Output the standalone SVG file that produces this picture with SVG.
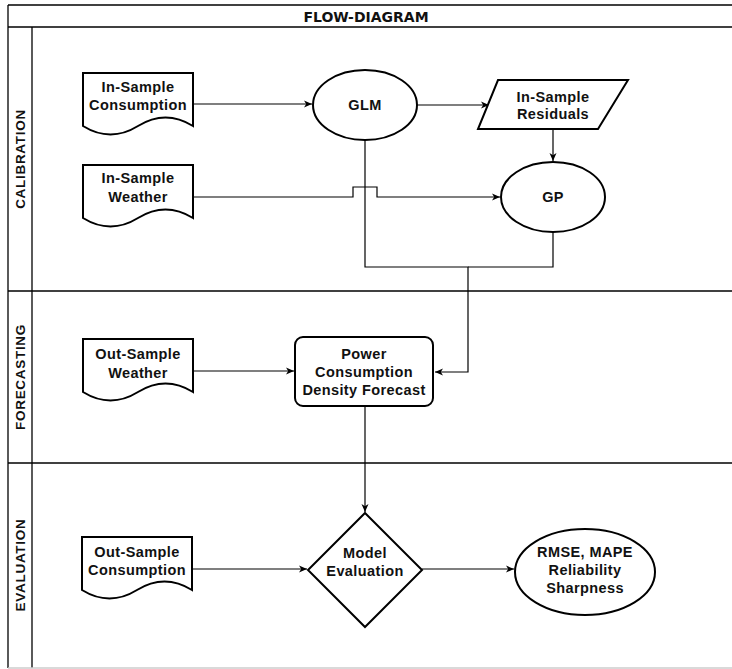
<svg xmlns="http://www.w3.org/2000/svg" width="732" height="669" viewBox="0 0 732 669">
<defs>
<marker id="arr" markerWidth="10" markerHeight="8" refX="8" refY="4" orient="auto" markerUnits="userSpaceOnUse">
<path d="M0,0.5 L8,4 L0,7.5 L2.2,4 Z" fill="#000"/>
</marker>
<style>
.frame{stroke:#000;stroke-width:1.3;fill:none}
.shape{fill:#fff;stroke:#000;stroke-width:2}
.edge{fill:none;stroke:#000;stroke-width:1.2}
.t{font-family:"Liberation Sans",Arial,sans-serif;font-weight:bold;font-size:14.5px;text-anchor:middle;fill:#111;letter-spacing:0.4px}
.lane{font-family:"Liberation Sans",Arial,sans-serif;font-weight:bold;font-size:13.5px;text-anchor:middle;fill:#111;letter-spacing:0.7px}
.title{font-family:"DejaVu Sans",sans-serif;font-weight:bold;font-size:14px;text-anchor:middle;fill:#111}
</style>
</defs>
<rect width="732" height="669" fill="#fff"/>
<g id="frame">
<line x1="8" y1="5" x2="732" y2="5" class="frame" stroke-width="2"/>
<line x1="8" y1="27" x2="732" y2="27" class="frame" stroke-width="1.6"/>
<line x1="8" y1="5" x2="8" y2="668" class="frame"/>
<line x1="32" y1="27" x2="32" y2="668" class="frame"/>
<line x1="8" y1="291" x2="732" y2="291" class="frame"/>
<line x1="8" y1="463" x2="732" y2="463" class="frame"/>
<line x1="8" y1="668" x2="732" y2="668" stroke="#ccc" stroke-width="1.3"/>
<text x="366" y="21.5" class="title">FLOW-DIAGRAM</text>
<text class="lane" transform="translate(25,159) rotate(-90)">CALIBRATION</text>
<text class="lane" transform="translate(25,377) rotate(-90)">FORECASTING</text>
<text class="lane" transform="translate(25,565) rotate(-90)">EVALUATION</text>
</g>
<g id="connectors">
<path class="edge" d="M193,104 H312" marker-end="url(#arr)"/>
<path class="edge" d="M417,105 H489" marker-end="url(#arr)"/>
<path class="edge" d="M553,129 V161" marker-end="url(#arr)"/>
<path class="edge" d="M193,197 H353 V187 H377 V197 H500" marker-end="url(#arr)"/>
<path class="edge" d="M365,140 V267 H468 V372 H435" marker-end="url(#arr)"/>
<path class="edge" d="M553,232 V267 H468"/>
<path class="edge" d="M193,371 H294" marker-end="url(#arr)"/>
<path class="edge" d="M365,406 V512" marker-end="url(#arr)"/>
<path class="edge" d="M192,569 H307" marker-end="url(#arr)"/>
<path class="edge" d="M422,569 H514" marker-end="url(#arr)"/>
</g>
<g id="in-sample-consumption">
<path class="shape" d="M83,73 H193 V126 Q165.5,109 138,126 Q110.5,143 83,126 Z"/>
<text class="t" x="138" y="92">In-Sample</text>
<text class="t" x="138" y="110">Consumption</text>
</g>
<g id="glm">
<ellipse class="shape" cx="365" cy="105" rx="52" ry="35"/>
<text class="t" x="365" y="110">GLM</text>
</g>
<g id="in-sample-residuals">
<polygon class="shape" points="498,80 628,80 598,129 478,129"/>
<text class="t" x="553" y="102">In-Sample</text>
<text class="t" x="553" y="119">Residuals</text>
</g>
<g id="in-sample-weather">
<path class="shape" d="M83,165 H193 V218 Q165.5,201 138,218 Q110.5,235 83,218 Z"/>
<text class="t" x="138" y="183">In-Sample</text>
<text class="t" x="138" y="202">Weather</text>
</g>
<g id="gp">
<ellipse class="shape" cx="553" cy="197" rx="52" ry="35"/>
<text class="t" x="553" y="202">GP</text>
</g>
<g id="out-sample-weather">
<path class="shape" d="M83,339 H193 V392 Q165.5,375 138,392 Q110.5,409 83,392 Z"/>
<text class="t" x="138" y="359">Out-Sample</text>
<text class="t" x="138" y="378">Weather</text>
</g>
<g id="power-forecast">
<rect class="shape" x="295" y="337" width="138" height="69" rx="8"/>
<text class="t" x="364" y="359">Power</text>
<text class="t" x="364" y="377">Consumption</text>
<text class="t" x="364" y="395">Density Forecast</text>
</g>
<g id="out-sample-consumption">
<path class="shape" d="M82,537 H192 V590 Q164.5,573 137,590 Q109.5,607 82,590 Z"/>
<text class="t" x="137" y="557">Out-Sample</text>
<text class="t" x="137" y="575">Consumption</text>
</g>
<g id="model-evaluation">
<polygon class="shape" points="365,513 422,570 365,627 308,570"/>
<text class="t" x="365" y="558">Model</text>
<text class="t" x="365" y="576">Evaluation</text>
</g>
<g id="metrics">
<ellipse class="shape" cx="585" cy="572" rx="70" ry="43"/>
<text class="t" x="585" y="557">RMSE, MAPE</text>
<text class="t" x="585" y="575">Reliability</text>
<text class="t" x="585" y="593">Sharpness</text>
</g>
</svg>
